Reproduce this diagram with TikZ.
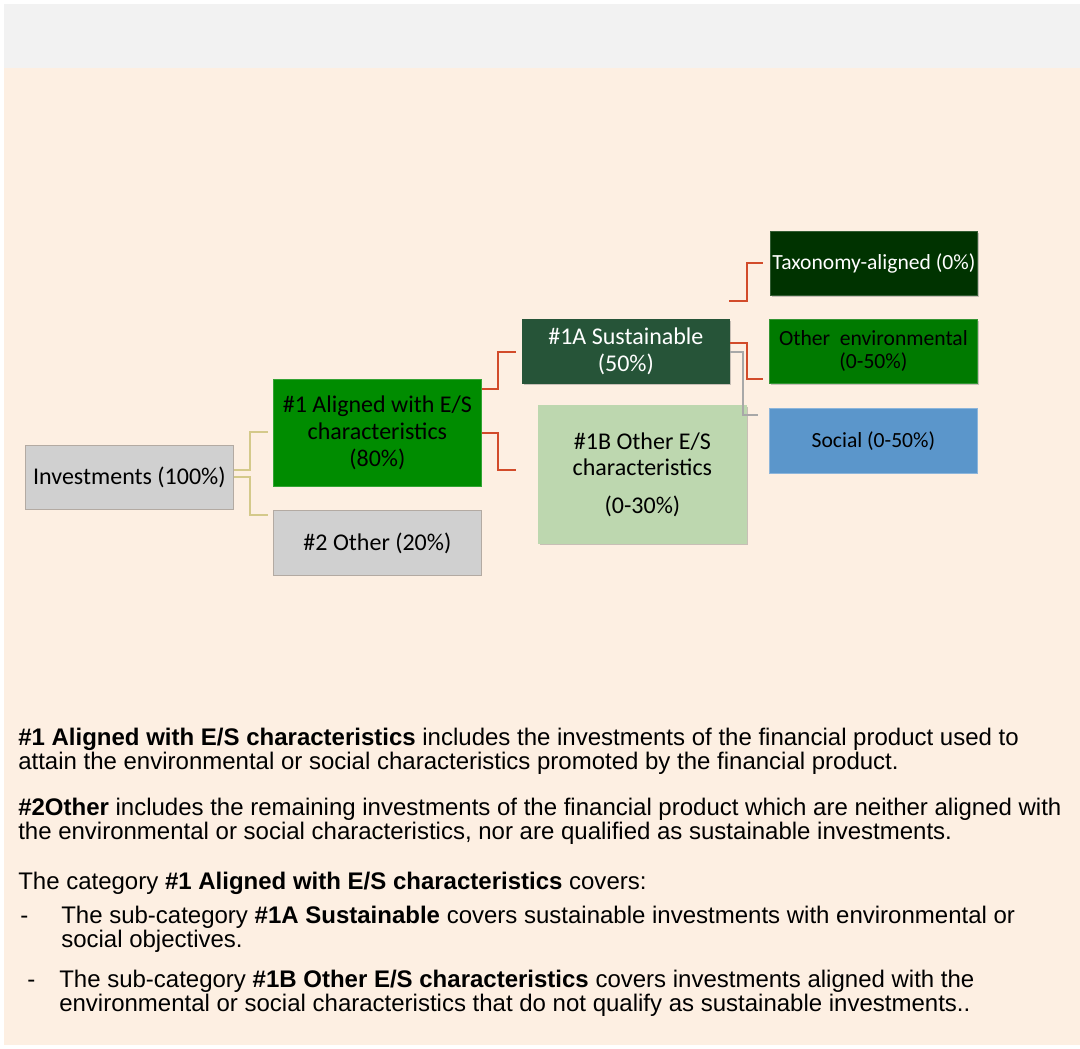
\documentclass[tikz,border=0pt]{standalone}
\usepackage{fontspec}
\setmainfont{Liberation Sans}
\newfontfamily\boxfont{Carlito}
\usetikzlibrary{shadows}
\definecolor{peach}{HTML}{FDEFE2}
\definecolor{topgray}{HTML}{F2F2F2}
\definecolor{boxgray}{HTML}{D0D0D0}
\definecolor{gborder}{HTML}{B3AAA2}
\definecolor{grnA}{HTML}{008C00}
\definecolor{grnS}{HTML}{265438}
\definecolor{grnL}{HTML}{BDD7AF}
\definecolor{grnT}{HTML}{003300}
\definecolor{grnO}{HTML}{007A00}
\definecolor{socblue}{HTML}{5B96CB}
\definecolor{conred}{HTML}{D24B2A}
\definecolor{conyel}{HTML}{D4C98A}
\definecolor{congray}{HTML}{A8A8A8}
\begin{document}
\begin{tikzpicture}[x=0.75pt,y=-0.75pt,
  box/.style={anchor=north west, inner sep=0pt, align=center,
    font=\boxfont\fontsize{18}{20}\selectfont, line width=0.6pt},
  rbox/.style={box, font=\boxfont\fontsize{16.2}{17.3}\selectfont},
  shad/.style={drop shadow={opacity=0.35, shadow xshift=1.5pt, shadow yshift=-1.5pt, fill=black!60}},
  redcon/.style={draw=conred, line width=1.4pt},
  yelcon/.style={draw=conyel, line width=1.2pt},
  graycon/.style={draw=congray, line width=1.2pt},
  para/.style={anchor=base west, inner sep=0pt, font=\fontsize{18}{18}\selectfont}
]
\useasboundingbox (0,0) rectangle (1080,1048);
\fill[white] (0,0) rectangle (1080,1048);
\fill[topgray] (4,4) rectangle (1080,68);
\fill[peach] (4,68) rectangle (1080,1045);

% nodes
\node[box, fill=boxgray, draw=gborder, minimum width=208*0.75pt, minimum height=64*0.75pt] (inv) at (25,445) {Investments (100\%)};
\node[box, fill=grnA, draw=grnA!80!white, minimum width=208*0.75pt, minimum height=107*0.75pt] (a1) at (273,379) {\#1 Aligned with E/S\\characteristics\\(80\%)};
\node[box, fill=boxgray, draw=gborder, minimum width=208*0.75pt, minimum height=65*0.75pt] (o2) at (273,510) {\#2 Other (20\%)};
\node[box, shad, fill=grnS, draw=grnS, text=white, minimum width=207*0.75pt, minimum height=64*0.75pt] (s1a) at (522,319) {\#1A Sustainable\\(50\%)};
\node[box, shad, fill=grnL, draw=grnL, minimum width=208*0.75pt, minimum height=138*0.75pt] (o1b) at (538,405) {\#1B Other E/S\\characteristics\\[8pt](0-30\%)};
\node[rbox, shad, fill=grnT, draw=grnT!80!white, text=white, minimum width=207*0.75pt, minimum height=64*0.75pt] (tax) at (770,231) {Taxonomy-aligned (0\%)};
\node[rbox, shad, fill=grnO, draw=grnO!80!white, minimum width=208*0.75pt, minimum height=64*0.75pt] (oenv) at (769,319) {Other\ \ environmental\\(0-50\%)};
\node[rbox, fill=socblue, draw=socblue!70!white, minimum width=208*0.75pt, minimum height=65*0.75pt] (soc) at (769,408) {Social (0-50\%)};

% connector endpoints
\coordinate (i1) at (inv.east |- 0,470);
\coordinate (i2) at (inv.east |- 0,477);
\coordinate (a1t) at (268,432);
\coordinate (o2t) at (268,515);
\coordinate (a1r1) at (a1.east |- 0,389);
\coordinate (a1r2) at (a1.east |- 0,433);
\coordinate (s1in) at (516,352);
\coordinate (o1bin) at (516,470);
\coordinate (taxfree) at (729,301);
\coordinate (taxin) at (763,263);
\coordinate (s1r1) at (s1a.east |- 0,343);
\coordinate (oenvin) at (763,379);
\coordinate (s1r2) at (s1a.east |- 0,352);
\coordinate (socin) at (758,415);

\draw[yelcon] (i1) -- (250,470) -- (250,432) -- (a1t);
\draw[yelcon] (i2) -- (250,477) -- (250,515) -- (o2t);
\draw[redcon] (a1r1) -- (498,389) -- (498,352) -- (s1in);
\draw[redcon] (a1r2) -- (498,433) -- (498,470) -- (o1bin);
\draw[redcon] (taxfree) -- (747,301) -- (747,263) -- (taxin);
\draw[redcon] (s1r1) -- (747,343) -- (747,379) -- (oenvin);
\draw[graycon] (s1r2) -- (743,352) -- (743,415) -- (socin);

% bottom text
\node[para] (t1) at (18,745) {\textbf{\#1 Aligned with E/S characteristics} includes the investments of the financial product used to};
\node[para] (t2) at (18,769) {attain the environmental or social characteristics promoted by the financial product.};
\node[para] (t3) at (18,815) {\textbf{\#2Other} includes the remaining investments of the financial product which are neither aligned with};
\node[para] (t4) at (18,839) {the environmental or social characteristics, nor are qualified as sustainable investments.};
\node[para] (t5) at (18,889) {The category \textbf{\#1 Aligned with E/S characteristics} covers:};
\node[para] (b1) at (20,923) {-};
\node[para] (t6) at (61,923) {The sub-category \textbf{\#1A Sustainable} covers sustainable investments with environmental or};
\node[para] (t7) at (61,947) {social objectives.};
\node[para] (b2) at (27,987) {-};
\node[para] (t8) at (59,987) {The sub-category \textbf{\#1B Other E/S characteristics} covers investments aligned with the};
\node[para] (t9) at (59,1011) {environmental or social characteristics that do not qualify as sustainable investments..};
\end{tikzpicture}
\end{document}
